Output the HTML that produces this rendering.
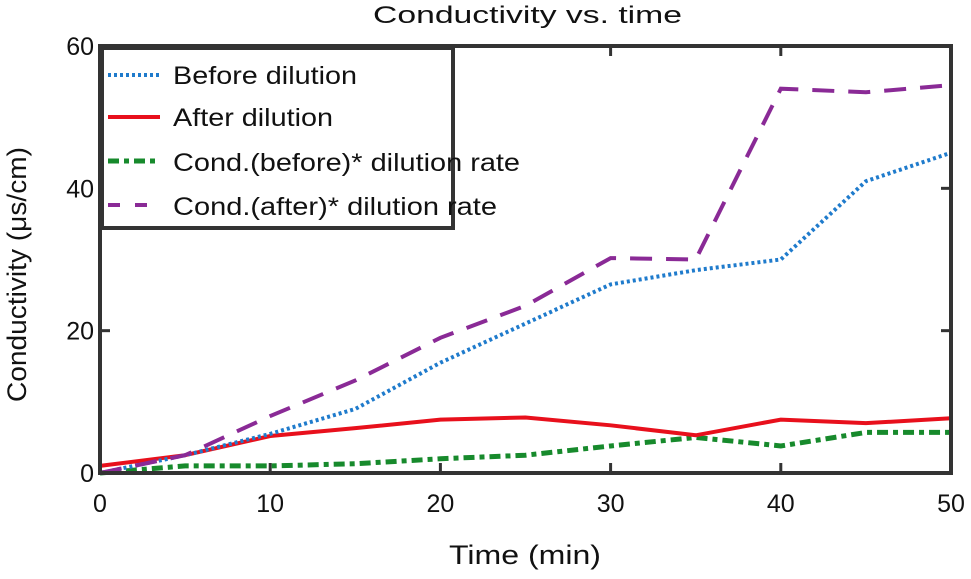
<!DOCTYPE html>
<html><head><meta charset="utf-8"><style>
body{margin:0;background:#fff;}
svg text{font-family:"Liberation Sans",Arial,sans-serif;fill:#111;}
</style></head><body>
<svg id="chart" width="971" height="574" viewBox="0 0 971 574" xmlns="http://www.w3.org/2000/svg">
<text x="373" y="23" font-size="24" textLength="309" lengthAdjust="spacingAndGlyphs">Conductivity vs. time</text>
<text x="449" y="564" font-size="27" textLength="152" lengthAdjust="spacingAndGlyphs">Time (min)</text>
<text transform="translate(26,402) rotate(-90)" font-size="27" textLength="255" lengthAdjust="spacingAndGlyphs">Conductivity (μs/cm)</text>
<g id="ticks"></g>
<g id="series"></g>
<rect x="100" y="46" width="851" height="427" fill="none" stroke="#333" stroke-width="4"/>
<g>
<rect x="102" y="48" width="351" height="180" fill="#fff" stroke="#333" stroke-width="4"/>
<line x1="108" y1="75" x2="160" y2="75" stroke="#1f7bcc" stroke-width="4" stroke-dasharray="3,3"/>
<text x="173" y="84" font-size="25" textLength="184" lengthAdjust="spacingAndGlyphs">Before dilution</text>
<line x1="108" y1="117" x2="160" y2="117" stroke="#e8101c" stroke-width="4"/>
<text x="173" y="126" font-size="25" textLength="160" lengthAdjust="spacingAndGlyphs">After dilution</text>
<line x1="108" y1="161" x2="160" y2="161" stroke="#178a2c" stroke-width="5" stroke-dasharray="11,5,5,5"/>
<text x="173" y="171" font-size="25" textLength="347" lengthAdjust="spacingAndGlyphs">Cond.(before)* dilution rate</text>
<line x1="108" y1="205" x2="160" y2="205" stroke="#8a2a96" stroke-width="4" stroke-dasharray="12,15"/>
<text x="173" y="215" font-size="25" textLength="324" lengthAdjust="spacingAndGlyphs">Cond.(after)* dilution rate</text>
</g>
</svg>
<script>
const times=[0,5,10,15,20,25,30,35,40,45,50];
const beforeDilution=[0,2.5,5.5,9,15.5,21,26.5,28.5,30,41,45];
const afterDilution=[1,2.5,5.2,6.3,7.5,7.8,6.7,5.3,7.5,7,7.7];
const condBefore=[0,1,1,1.3,2,2.5,3.8,5,3.8,5.7,5.7];
const condAfter=[0,2.5,8,13,19,23.5,30.2,30,54,53.5,54.5];
const xTicks=[0,10,20,30,40,50];
const yTicks=[0,20,40,60];
const NS="http://www.w3.org/2000/svg";
const L=100,R=951,T=46,B=473;
function xs(v){return L+(v-0)/(50-0)*(R-L);}
function ys(v){return B-(v-0)/(60-0)*(B-T);}
const tg=document.getElementById('ticks');
xTicks.forEach(t=>{
  const tx=document.createElementNS(NS,'text');
  
  
  tx.setAttribute('x',xs(t));tx.setAttribute('y',512);tx.setAttribute('font-size','25');tx.setAttribute('text-anchor','middle');
  tx.textContent=t;tg.appendChild(tx);
  [[B,B-10],[T,T+10]].forEach(p=>{
    const ln=document.createElementNS(NS,'line');
    
    
    ln.setAttribute('x1',xs(t));ln.setAttribute('x2',xs(t));ln.setAttribute('y1',p[0]);ln.setAttribute('y2',p[1]);
    ln.setAttribute('stroke','#333');ln.setAttribute('stroke-width','3');tg.appendChild(ln);
  });
});
yTicks.forEach(t=>{
  const tx=document.createElementNS(NS,'text');
  
  
  tx.setAttribute('x',94);tx.setAttribute('y',ys(t)+9);tx.setAttribute('font-size','25');tx.setAttribute('text-anchor','end');
  tx.textContent=t;tg.appendChild(tx);
  [[L,L+10],[R,R-10]].forEach(p=>{
    const ln=document.createElementNS(NS,'line');
    
    
    ln.setAttribute('x1',p[0]);ln.setAttribute('x2',p[1]);ln.setAttribute('y1',ys(t));ln.setAttribute('y2',ys(t));
    ln.setAttribute('stroke','#333');ln.setAttribute('stroke-width','3');tg.appendChild(ln);
  });
});
const sg=document.getElementById('series');
function line(vals,color,w,dash,name){
  const p=document.createElementNS(NS,'polyline');
  
  
  p.setAttribute('points',vals.map((v,i)=>xs(times[i])+','+ys(v)).join(' '));
  p.setAttribute('fill','none');p.setAttribute('stroke',color);p.setAttribute('stroke-width',w);
  if(dash)p.setAttribute('stroke-dasharray',dash);
  sg.appendChild(p);
}
line(condBefore,'#178a2c',5,'11,5,5,5','cond-before-line');
line(afterDilution,'#e8101c',4,null,'after-dilution-line');
line(beforeDilution,'#1f7bcc',4,'3,3','before-dilution-line');
line(condAfter,'#8a2a96',4,'22,14','cond-after-line');
</script>
</body></html>
